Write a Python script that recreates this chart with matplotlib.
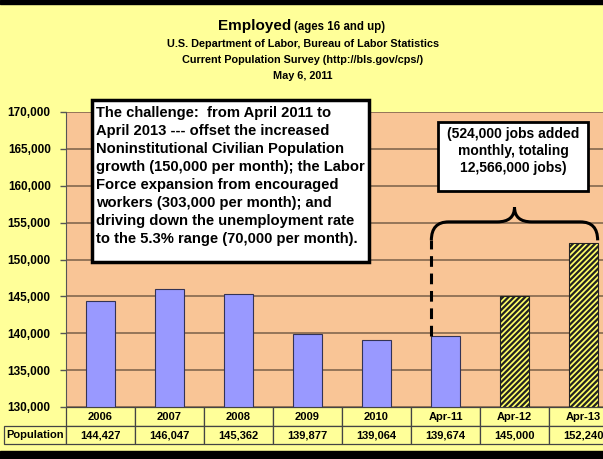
import matplotlib
matplotlib.use("Agg")
import matplotlib.pyplot as plt
from matplotlib.patches import Rectangle, PathPatch
from matplotlib.path import Path
from matplotlib.table import Table

# data
categories = ['2006', '2007', '2008', '2009', '2010', 'Apr-11', 'Apr-12', 'Apr-13']
employed = [144427, 146047, 145362, 139877, 139064, 139674, 145000, 152240]
projected = [False, False, False, False, False, False, True, True]

W, H = 603, 459
plt.rcParams['font.family'] = ['Liberation Sans', 'DejaVu Sans']
plt.rcParams['font.weight'] = 'bold'
plt.rcParams['hatch.linewidth'] = 1.6

fig = plt.figure(figsize=(W / 100, H / 100), dpi=100, facecolor='#FFFF99')

def fx(px):
    return px / W

def fy(py):
    return 1 - py / H

# plot area runs off the right edge like the original screenshot
ax = fig.add_axes([fx(66), fy(407), 552 / W, 295 / H])
ax.set_facecolor('#F9C596')
ax.set_xlim(-0.5, len(categories) - 0.5)
ax.set_ylim(130000, 170000)
ax.set_yticks(range(130000, 170001, 5000))
ax.set_yticklabels([f'{v:,}' for v in range(130000, 170001, 5000)], fontsize=8.5, fontweight='bold')
ax.tick_params(axis='y', length=4, width=1, color='#555555', pad=7)
ax.set_xticks([])
ax.yaxis.grid(True, color='#7a6048', lw=1.1)
ax.set_axisbelow(True)
for s in ['top', 'right', 'bottom']:
    ax.spines[s].set_visible(False)
ax.spines['left'].set_color('#555555')

bar_w = 0.41
for i, (v, p) in enumerate(zip(employed, projected)):
    if p:
        ax.bar(i, v - 130000, bottom=130000, width=bar_w, color='#FFFF66',
               edgecolor='#222222', hatch='//////', lw=0.8, zorder=3)
    else:
        ax.bar(i, v - 130000, bottom=130000, width=bar_w, color='#9999FF',
               edgecolor='#333355', lw=0.8, zorder=3)

# data table under the axis; column 0 holds the row label
lab_w = 62 / 69
tbl = Table(ax, bbox=[-(62 / 552), -(37 / 295), 1 + 62 / 552, 37 / 295])
tbl.add_cell(0, 0, width=lab_w, height=1.1, text='', facecolor='none', edgecolor='none')
for j, c in enumerate(categories):
    tbl.add_cell(0, j + 1, width=1, height=1.1, text=c, loc='center', facecolor='#FFFF99', edgecolor='#444444')
tbl.add_cell(1, 0, width=lab_w, height=1, text='Population', loc='center', facecolor='#FFFF99', edgecolor='#444444')
for j, v in enumerate(employed):
    tbl.add_cell(1, j + 1, width=1, height=1, text=f'{v:,}', loc='center', facecolor='#FFFF99', edgecolor='#444444')
tbl.auto_set_font_size(False)
tbl.set_fontsize(8)
for cell in tbl.get_celld().values():
    cell.get_text().set_fontweight('bold')
    cell.set_linewidth(0.9)
ax.add_table(tbl)

# brace over projection bars
x0 = 5 - bar_w / 2
x1 = 7 + bar_w / 2
xm = (x0 + x1) / 2
yb, yh, yp = 152600, 155100, 157100
rx = 0.25
verts = [(x0, yb), (x0, yh), (x0 + rx, yh),
         (xm - rx, yh), (xm, yh), (xm, yp),
         (xm, yh), (xm + rx, yh),
         (x1 - rx, yh), (x1, yh), (x1, yb)]
codes = [Path.MOVETO, Path.CURVE3, Path.CURVE3,
         Path.LINETO, Path.CURVE3, Path.CURVE3,
         Path.CURVE3, Path.CURVE3,
         Path.LINETO, Path.CURVE3, Path.CURVE3]
ax.add_patch(PathPatch(Path(verts, codes), fill=False, lw=2.2, color='black', zorder=4))
ax.plot([x0, x0], [employed[5], yb], color='black', lw=2.2, ls=(0, (3.5, 2.2)), zorder=4)

# titles
fig.text(fx(291), fy(30), 'Employed', ha='right', fontsize=11, fontweight='bold')
fig.text(fx(294), fy(30), '(ages 16 and up)', ha='left', fontsize=8.3, fontweight='bold')
subs = ['U.S. Department of Labor, Bureau of Labor Statistics',
        'Current Population Survey (http://bls.gov/cps/)',
        'May 6, 2011']
for k, s in enumerate(subs):
    fig.text(fx(303), fy(47 + 16 * k), s, ha='center', fontsize=7.8, fontweight='bold')

# text boxes
fig.add_artist(Rectangle((fx(92), fy(262)), fx(369) - fx(92), fy(100) - fy(262),
                         transform=fig.transFigure, facecolor='white', edgecolor='black', lw=2.5))
challenge = ('The challenge:  from April 2011 to\n'
             'April 2013 --- offset the increased\n'
             'Noninstitutional Civilian Population\n'
             'growth (150,000 per month); the Labor\n'
             'Force expansion from encouraged\n'
             'workers (303,000 per month); and\n'
             'driving down the unemployment rate\n'
             'to the 5.3% range (70,000 per month).')
fig.text(fx(96), fy(106), challenge, ha='left', va='top', fontsize=10.6,
         fontweight='bold', linespacing=1.37)

fig.add_artist(Rectangle((fx(438), fy(191)), fx(588) - fx(438), fy(122) - fy(191),
                         transform=fig.transFigure, facecolor='white', edgecolor='black', lw=2))
fig.text(fx(513), fy(151), '(524,000 jobs added\nmonthly, totaling\n12,566,000 jobs)',
         ha='center', va='center', fontsize=10, fontweight='bold', linespacing=1.25)

# black frame bands of the screenshot
fig.add_artist(Rectangle((0, fy(4)), 1, 4 / H, transform=fig.transFigure, color='black'))
fig.add_artist(Rectangle((0, 0), 1, 8 / H, transform=fig.transFigure, color='black'))

fig.savefig('out.png', dpi=100, facecolor=fig.get_facecolor())
